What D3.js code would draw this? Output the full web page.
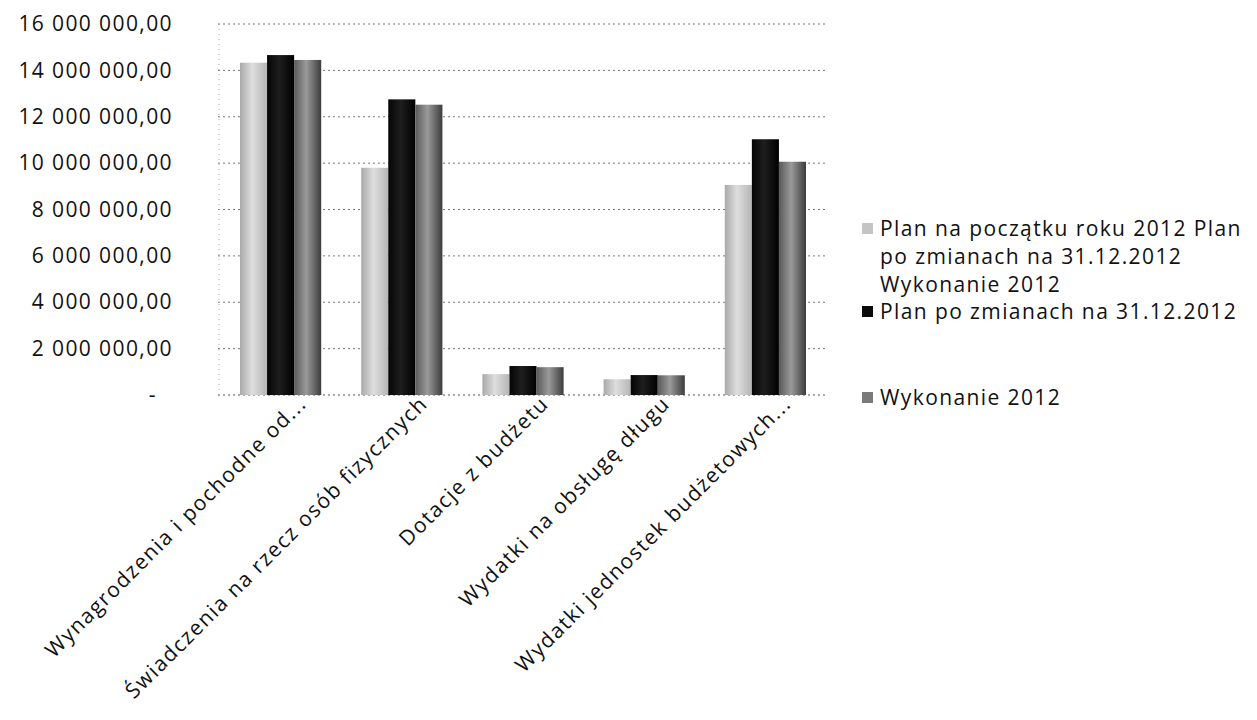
<!DOCTYPE html>
<html>
<head>
<meta charset="utf-8">
<script src="https://cdn.jsdelivr.net/npm/d3@7"></script>
<style>
  body { margin: 0; background: #fff; }
  text { font-family: "Open Sans", sans-serif; fill: #111; }
</style>
</head>
<body>
<script>
let w = 1257;
let h = 720;

let categories = [
  "Wynagrodzenia i pochodne od...",
  "Świadczenia na rzecz osób fizycznych",
  "Dotacje z budżetu",
  "Wydatki na obsługę długu",
  "Wydatki jednostek budżetowych..."
];
let seriesNames = [
  "Plan na początku roku 2012 Plan po zmianach na 31.12.2012 Wykonanie 2012",
  "Plan po zmianach na 31.12.2012",
  "Wykonanie 2012"
];
let planStart = [14330000, 9800000, 900000, 680000, 9060000];
let planChanged = [14660000, 12750000, 1250000, 860000, 11030000];
let execution = [14450000, 12520000, 1200000, 850000, 10060000];
let yTicks = [0, 2e6, 4e6, 6e6, 8e6, 10e6, 12e6, 14e6, 16e6];

let seriesValues = [planStart, planChanged, execution];

let svg = d3.select("body").append("svg").attr("width", w).attr("height", h);

// gradients for the shaded bars
let defs = svg.append("defs");
let grads = [
  ["#a9a9a9", "#dedede", "#b5b5b5"],
  ["#050505", "#1e1e1e", "#000000"],
  ["#5a5a5a", "#9a9a9a", "#3c3c3c"]
];
grads.forEach((g, i) => {
  let el = defs.append("linearGradient").attr("id", "g" + i)
    .attr("x1", "0").attr("x2", "1").attr("y1", "0").attr("y2", "0");
  el.append("stop").attr("offset", "0%").attr("stop-color", g[0]);
  el.append("stop").attr("offset", "45%").attr("stop-color", g[1]);
  el.append("stop").attr("offset", "100%").attr("stop-color", g[2]);
});

let x = d3.scaleBand().domain(categories).range([220, 826])
  .paddingInner(0.33).paddingOuter(0.165);
let xs = d3.scaleBand().domain(d3.range(seriesNames.length)).range([0, x.bandwidth()]);
let y = d3.scaleLinear().domain([0, 16e6]).range([395, 24]);

let pl = d3.formatLocale({ decimal: ",", thousands: " ", grouping: [3], currency: ["", ""] });
let fmt = pl.format(",.2f");

// gridlines
svg.append("g")
  .selectAll("line")
  .data(yTicks)
  .enter()
  .append("line")
  .attr("x1", 218).attr("x2", 826)
  .attr("y1", d => y(d)).attr("y2", d => y(d))
  .attr("stroke", d => d === 0 ? "#555" : "#777")
  .attr("stroke-width", 1)
  .attr("stroke-dasharray", "2,3");

svg.append("line")
  .attr("x1", 219).attr("x2", 219).attr("y1", y(16e6)).attr("y2", y(0))
  .attr("stroke", "#aaa").attr("stroke-dasharray", "1,4");

// y axis labels
let yAxis = d3.axisLeft(y).tickValues(yTicks).tickSize(0).tickPadding(0)
  .tickFormat(d => d === 0 ? "-" : fmt(d));
let ya = svg.append("g").attr("transform", "translate(173,0)").call(yAxis);
ya.select(".domain").remove();
ya.selectAll("text")
  .attr("font-family", "Open Sans, sans-serif")
  .attr("font-size", 21)
  .attr("letter-spacing", "1.4px")
  .attr("fill", "#111")
  .attr("dx", d => d === 0 ? -16 : 0);

// bars
let groups = svg.append("g")
  .selectAll("g")
  .data(categories)
  .enter()
  .append("g")
  .attr("transform", d => `translate(${x(d)},0)`);

groups.selectAll("rect")
  .data((d, ci) => seriesValues.map((s, si) => ({ si, v: s[ci] })))
  .enter()
  .append("rect")
  .attr("x", d => xs(d.si))
  .attr("width", xs.bandwidth())
  .attr("y", d => y(d.v))
  .attr("height", d => y(0) - y(d.v))
  .attr("fill", d => `url(#g${d.si})`);

// x labels, rotated
svg.append("g")
  .selectAll("text")
  .data(categories)
  .enter()
  .append("text")
  .text(d => d)
  .attr("text-anchor", "end")
  .attr("font-size", 21)
  .attr("letter-spacing", "1.5px")
  .attr("transform", d => `translate(${x(d) + x.bandwidth() / 2 + 27},${y(0) + 10}) rotate(-45)`);

// legend
let legendY = [229, 312, 398];
let legendColors = ["#c4c4c4", "#0a0a0a", "#7a7a7a"];
let lg = svg.append("g");
seriesNames.forEach((name, i) => {
  lg.append("rect")
    .attr("x", 862).attr("y", legendY[i] - 6)
    .attr("width", 11).attr("height", 11)
    .attr("fill", legendColors[i]);
  let t = lg.append("text")
    .attr("x", 880).attr("y", legendY[i] + 7)
    .attr("font-size", 21)
    .attr("letter-spacing", "1.4px");
  // simple word wrap
  let words = name.split(" ");
  let line = [];
  let ts = t.append("tspan").attr("x", 880);
  words.forEach(wd => {
    line.push(wd);
    ts.text(line.join(" "));
    if (ts.node().getComputedTextLength() > 378 && line.length > 1) {
      line.pop();
      ts.text(line.join(" "));
      line = [wd];
      ts = t.append("tspan").attr("x", 880).attr("dy", 28).text(wd);
    }
  });
});
</script>
</body>
</html>
